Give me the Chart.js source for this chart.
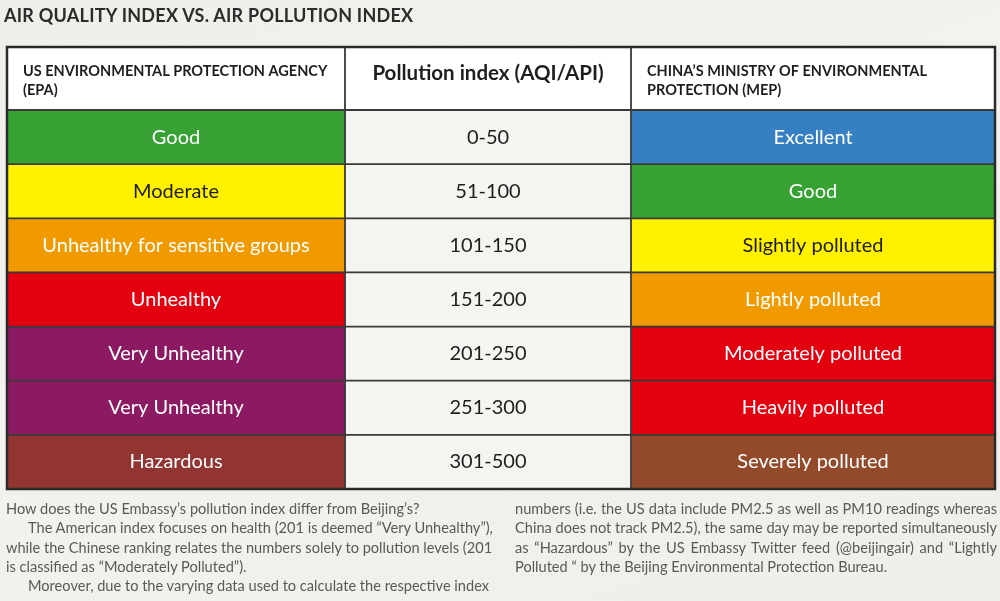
<!DOCTYPE html>
<html>
<head>
<meta charset="utf-8">
<title>Air quality index vs. air pollution index</title>
<script src="https://cdn.jsdelivr.net/npm/chart.js@4.4.0/dist/chart.umd.min.js"></script>
<style>
  html, body { margin: 0; padding: 0; }
  body {
    width: 1000px; height: 601px; position: relative; overflow: hidden;
    background: linear-gradient(160deg, #efeee9 0%, #f3f2ee 45%, #efeee9 100%);
    font-family: Lato, "Open Sans", sans-serif;
  }
  #chartBox { position: absolute; left: 0; top: 0; width: 1000px; height: 601px; }
  #title {
    position: absolute; left: 4px; top: 4px;
    font: bold 18px Lato, sans-serif; color: #2b2b2b; letter-spacing: 0.25px;
  }
  .note {
    position: absolute; top: 499px; width: 482px;
    font-size: 14.6px; line-height: 19.3px; color: #595959;
  }
  .note div { text-align: justify; text-align-last: justify; white-space: nowrap; }
  .note div.last { text-align-last: left; }
  .note .ind { padding-left: 22px; }
</style>
</head>
<body>
<div id="chartBox"><canvas id="aqiTable"></canvas></div>
<div id="title">AIR QUALITY INDEX VS. AIR POLLUTION INDEX</div>
<div class="note" style="left:6px">
  <div class="last">How does the US Embassy’s pollution index differ from Beijing’s?</div>
  <div class="ind">The American index focuses on health (201 is deemed “Very Unhealthy”),</div>
  <div>while the Chinese ranking relates the numbers solely to pollution levels (201</div>
  <div class="last">is classified as “Moderately Polluted”).</div>
  <div class="ind">Moreover, due to the varying data used to calculate the respective index</div>
</div>
<div class="note" style="left:515px">
  <div>numbers (i.e. the US data include PM2.5 as well as PM10 readings whereas</div>
  <div>China does not track PM2.5), the same day may be reported simultaneously</div>
  <div>as “Hazardous” by the US Embassy Twitter feed (@beijingair) and “Lightly</div>
  <div class="last">Polluted “ by the Beijing Environmental Protection Bureau.</div>
</div>
<script>
// table contents
var headers = [
  ['US ENVIRONMENTAL PROTECTION AGENCY', '(EPA)'],
  ['Pollution index (AQI/API)'],
  ['CHINA’S MINISTRY OF ENVIRONMENTAL', 'PROTECTION (MEP)']
];
var indexRanges = ['0-50', '51-100', '101-150', '151-200', '201-250', '251-300', '301-500'];
var epaLevels = ['Good', 'Moderate', 'Unhealthy for sensitive groups', 'Unhealthy',
                 'Very Unhealthy', 'Very Unhealthy', 'Hazardous'];
var mepLevels = ['Excellent', 'Good', 'Slightly polluted', 'Lightly polluted',
                 'Moderately polluted', 'Heavily polluted', 'Severely polluted'];

// colours
var epaColors = ['#37a233', '#fff100', '#f19a00', '#e3000f', '#8c1a62', '#8c1a62', '#923532'];
var mepColors = ['#357fc2', '#37a233', '#fff100', '#f19a00', '#e3000f', '#e3000f', '#924a2a'];
var epaText = ['#fff', '#1c1c1c', '#fff', '#fff', '#fff', '#fff', '#fff'];
var mepText = ['#fff', '#fff', '#1c1c1c', '#fff', '#fff', '#fff', '#fff'];

// layout: column edges on the x scale, header height
var colEdges = [0, 338, 624, 988];
var headerH = 63;

var cellSpan = function(i) {
  return indexRanges.map(function() { return [colEdges[i], colEdges[i + 1]]; });
};

var tablePlugin = {
  id: 'tablePlugin',
  beforeDatasetsDraw: function(chart) {
    var ctx = chart.ctx, area = chart.chartArea;
    ctx.save();
    ctx.fillStyle = '#ffffff';
    ctx.fillRect(area.left, area.top - headerH, area.right - area.left, headerH);
    ctx.restore();
  },
  afterDatasetsDraw: function(chart) {
    var ctx = chart.ctx, area = chart.chartArea;
    var xs = chart.scales.x, ys = chart.scales.y;
    ctx.save();

    // cell labels
    ctx.textAlign = 'center';
    ctx.textBaseline = 'middle';
    ctx.font = '20px Lato, sans-serif';
    chart.data.datasets.forEach(function(ds, di) {
      chart.getDatasetMeta(di).data.forEach(function(el, i) {
        ctx.fillStyle = ds.textColors[i];
        ctx.fillText(ds.texts[i], (el.x + el.base) / 2, el.y);
      });
    });

    // header labels
    var top = area.top - headerH;
    ctx.fillStyle = '#1e1e1e';
    ctx.textBaseline = 'middle';
    ctx.font = 'bold 14.5px Lato, sans-serif';
    ctx.textAlign = 'left';
    [0, 2].forEach(function(c) {
      var x0 = xs.getPixelForValue(colEdges[c]) + 16;
      headers[c].forEach(function(line, k) {
        ctx.fillText(line, x0, top + 24 + k * 19);
      });
    });
    ctx.textAlign = 'center';
    ctx.font = 'bold 20.5px Lato, sans-serif';
    ctx.fillText(headers[1][0], (xs.getPixelForValue(colEdges[1]) + xs.getPixelForValue(colEdges[2])) / 2, top + 26);

    // grid lines
    ctx.strokeStyle = '#3a3a3a';
    ctx.lineWidth = 1.8;
    ctx.beginPath();
    var band = ys.getPixelForValue(1) - ys.getPixelForValue(0);
    for (var r = 0; r < indexRanges.length; r++) {
      var yy = ys.getPixelForValue(r) - band / 2;
      ctx.moveTo(area.left, yy);
      ctx.lineTo(area.right, yy);
    }
    for (var c = 1; c < colEdges.length - 1; c++) {
      var xx = xs.getPixelForValue(colEdges[c]);
      ctx.moveTo(xx, top);
      ctx.lineTo(xx, area.bottom);
    }
    ctx.stroke();
    ctx.strokeStyle = '#2a2a2a';
    ctx.lineWidth = 2.5;
    ctx.strokeRect(area.left, top, area.right - area.left, area.bottom - top);
    ctx.restore();
  }
};

new Chart(document.getElementById('aqiTable'), {
  type: 'bar',
  data: {
    labels: indexRanges,
    datasets: [
      { label: 'EPA', data: cellSpan(0), backgroundColor: epaColors, texts: epaLevels, textColors: epaText },
      { label: 'Index', data: cellSpan(1), backgroundColor: '#f4f4f1', texts: indexRanges,
        textColors: indexRanges.map(function() { return '#1e1e1e'; }) },
      { label: 'MEP', data: cellSpan(2), backgroundColor: mepColors, texts: mepLevels, textColors: mepText }
    ]
  },
  options: {
    indexAxis: 'y',
    responsive: true,
    maintainAspectRatio: false,
    animation: false,
    layout: { padding: { left: 7, right: 5, top: 110, bottom: 112 } },
    datasets: { bar: { grouped: false, barPercentage: 1, categoryPercentage: 1, borderWidth: 0 } },
    scales: {
      x: { type: 'linear', min: colEdges[0], max: colEdges[colEdges.length - 1], display: false },
      y: { type: 'category', display: false }
    },
    plugins: { legend: { display: false }, tooltip: { enabled: false }, title: { display: false } }
  },
  plugins: [tablePlugin]
});
</script>
</body>
</html>
